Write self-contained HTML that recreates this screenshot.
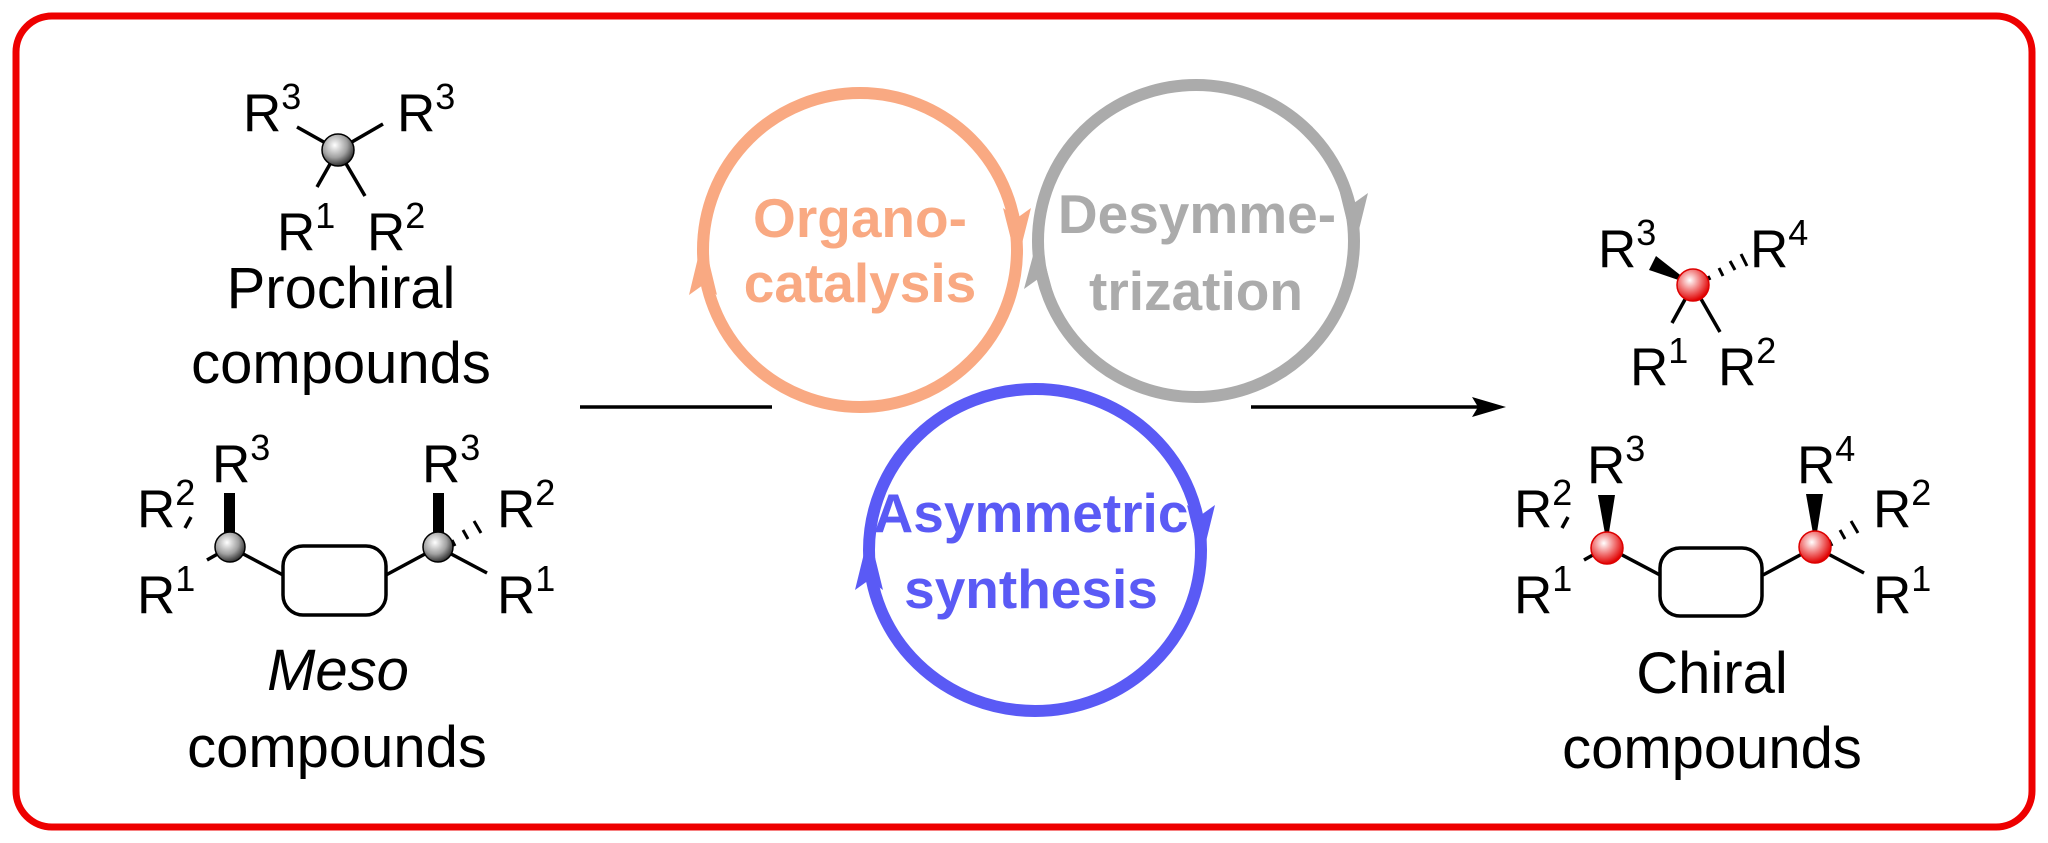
<!DOCTYPE html>
<html><head><meta charset="utf-8"><style>
html,body{margin:0;padding:0;background:#fff;}
svg{display:block;}
text{font-family:"Liberation Sans",Arial,sans-serif;}
</style></head><body>
<svg width="2048" height="843" viewBox="0 0 2048 843" xmlns="http://www.w3.org/2000/svg">
<defs>
<radialGradient id="gb" cx="0.4" cy="0.35" r="0.65">
<stop offset="0" stop-color="#ffffff"/><stop offset="0.6" stop-color="#a0a0a0"/><stop offset="1" stop-color="#333"/>
</radialGradient>
<radialGradient id="rb" cx="0.4" cy="0.35" r="0.65">
<stop offset="0" stop-color="#ffffff"/><stop offset="0.55" stop-color="#f07070"/><stop offset="1" stop-color="#e00000"/>
</radialGradient>
</defs>
<rect x="16" y="16" width="2016" height="811" rx="36" ry="36" fill="none" stroke="#ee0000" stroke-width="7"/>

<!-- Prochiral -->
<g stroke="#000" stroke-width="3.5">
<line x1="297" y1="127" x2="338" y2="150"/><line x1="383" y1="124" x2="338" y2="150"/>
<line x1="317" y1="187" x2="338" y2="150"/><line x1="365" y1="196" x2="338" y2="150"/>
</g>
<circle cx="338" cy="150" r="16" fill="url(#gb)" stroke="#000" stroke-width="1.5"/>
<g font-size="53" fill="#000">
<text x="243" y="131">R<tspan font-size="36" dy="-22">3</tspan></text>
<text x="397" y="131">R<tspan font-size="36" dy="-22">3</tspan></text>
<text x="277" y="250">R<tspan font-size="36" dy="-22">1</tspan></text>
<text x="367" y="250">R<tspan font-size="36" dy="-22">2</tspan></text>
</g>
<g font-size="58" text-anchor="middle" fill="#000">
<text x="341" y="308">Prochiral</text>
<text x="341" y="383">compounds</text>
<text x="338" y="690" font-style="italic">Meso</text>
<text x="337" y="767">compounds</text>
<text x="1712" y="693">Chiral</text>
<text x="1712" y="768">compounds</text>
</g>

<!-- Meso -->
<g stroke="#000" stroke-width="3.5" fill="none">
<line x1="230" y1="547" x2="283" y2="575"/>
<line x1="230" y1="547" x2="207" y2="560"/>
<line x1="191" y1="517" x2="185" y2="528"/>
<line x1="438" y1="547" x2="386" y2="575"/>
<line x1="438" y1="547" x2="487" y2="573"/>
<rect x="283" y="546" width="103" height="69" rx="20"/>
</g>
<g stroke="#000" stroke-width="3">
<line x1="452" y1="540" x2="455" y2="546"/><line x1="463" y1="530" x2="468" y2="539"/><line x1="474" y1="521" x2="481" y2="533"/>
</g>
<rect x="224" y="493" width="11" height="48" fill="#000"/>
<rect x="433" y="493" width="11" height="48" fill="#000"/>
<circle cx="230" cy="547" r="15" fill="url(#gb)" stroke="#000" stroke-width="1.5"/>
<circle cx="438" cy="547" r="15" fill="url(#gb)" stroke="#000" stroke-width="1.5"/>
<g font-size="53" fill="#000">
<text x="137" y="527">R<tspan font-size="36" dy="-22">2</tspan></text>
<text x="212" y="482">R<tspan font-size="36" dy="-22">3</tspan></text>
<text x="137" y="613">R<tspan font-size="36" dy="-22">1</tspan></text>
<text x="422" y="482">R<tspan font-size="36" dy="-22">3</tspan></text>
<text x="497" y="527">R<tspan font-size="36" dy="-22">2</tspan></text>
<text x="497" y="613">R<tspan font-size="36" dy="-22">1</tspan></text>
</g>

<!-- arrows -->
<line x1="580" y1="407" x2="772" y2="407" stroke="#000" stroke-width="3.5"/>
<line x1="1251" y1="407" x2="1480" y2="407" stroke="#000" stroke-width="3.5"/>
<polygon points="1506,407 1472,397 1478,407 1472,417" fill="#000"/>

<!-- cycles -->
<g fill="none" stroke-width="12">
<ellipse cx="860" cy="250" rx="157" ry="157" stroke="#F9A982"/>
<ellipse cx="1196" cy="241" rx="158" ry="156" stroke="#ABABAB"/>
<ellipse cx="1035" cy="550" rx="166" ry="161" stroke="#5A5AF5"/>
</g>
<g>
<polygon points="703,237 689,295 703,285 717,295" fill="#F9A982"/>
<polygon points="1017,263 1003,208 1017,218 1031,208" fill="#F9A982"/>
<polygon points="1038,237 1024,289 1038,279 1052,289" fill="#ABABAB"/>
<polygon points="1354,250 1340,193 1354,203 1368,193" fill="#ABABAB"/>
<polygon points="869,533 855,590 869,580 883,590" fill="#5A5AF5"/>
<polygon points="1201,562 1187,505 1201,515 1215,505" fill="#5A5AF5"/>
</g>
<g font-size="55" font-weight="bold" text-anchor="middle">
<text x="860" y="237" fill="#F9A982">Organo-</text>
<text x="860" y="302" fill="#F9A982">catalysis</text>
<text x="1197" y="233" fill="#ABABAB">Desymme-</text>
<text x="1196" y="310" fill="#ABABAB">trization</text>
<text x="1031" y="532" fill="#5A5AF5">Asymmetric</text>
<text x="1031" y="608" fill="#5A5AF5">synthesis</text>
</g>

<!-- Chiral top -->
<g stroke="#000" stroke-width="3.5">
<line x1="1693" y1="285" x2="1672" y2="323"/><line x1="1693" y1="285" x2="1720" y2="332"/>
</g>
<polygon points="1693,285 1649,270 1656,256" fill="#000"/>
<g stroke="#000" stroke-width="3">
<line x1="1708" y1="276" x2="1710" y2="280"/><line x1="1719" y1="268" x2="1723" y2="276"/><line x1="1730" y1="261" x2="1735" y2="270"/><line x1="1741" y1="254" x2="1747" y2="266"/>
</g>
<circle cx="1693" cy="285" r="16" fill="url(#rb)" stroke="#d00" stroke-width="1.5"/>
<g font-size="53" fill="#000">
<text x="1598" y="267">R<tspan font-size="36" dy="-22">3</tspan></text>
<text x="1750" y="267">R<tspan font-size="36" dy="-22">4</tspan></text>
<text x="1630" y="385">R<tspan font-size="36" dy="-22">1</tspan></text>
<text x="1718" y="385">R<tspan font-size="36" dy="-22">2</tspan></text>
</g>

<!-- Chiral bottom -->
<g stroke="#000" stroke-width="3.5" fill="none">
<line x1="1607" y1="547" x2="1660" y2="575"/>
<line x1="1607" y1="547" x2="1584" y2="560"/>
<line x1="1568" y1="517" x2="1562" y2="528"/>
<line x1="1815" y1="547" x2="1763" y2="575"/>
<line x1="1815" y1="547" x2="1864" y2="573"/>
<rect x="1660" y="548" width="102" height="68" rx="20"/>
</g>
<g stroke="#000" stroke-width="3">
<line x1="1829" y1="540" x2="1832" y2="546"/><line x1="1840" y1="530" x2="1845" y2="539"/><line x1="1851" y1="521" x2="1858" y2="533"/>
</g>
<polygon points="1598,495 1615,495 1607,545" fill="#000"/>
<polygon points="1806,494 1823,494 1815,545" fill="#000"/>
<circle cx="1607" cy="548" r="16" fill="url(#rb)" stroke="#d00" stroke-width="1.5"/>
<circle cx="1815" cy="547" r="16" fill="url(#rb)" stroke="#d00" stroke-width="1.5"/>
<g font-size="53" fill="#000">
<text x="1514" y="527">R<tspan font-size="36" dy="-22">2</tspan></text>
<text x="1587" y="483">R<tspan font-size="36" dy="-22">3</tspan></text>
<text x="1514" y="613">R<tspan font-size="36" dy="-22">1</tspan></text>
<text x="1797" y="483">R<tspan font-size="36" dy="-22">4</tspan></text>
<text x="1873" y="527">R<tspan font-size="36" dy="-22">2</tspan></text>
<text x="1873" y="613">R<tspan font-size="36" dy="-22">1</tspan></text>
</g>
</svg>
</body></html>
